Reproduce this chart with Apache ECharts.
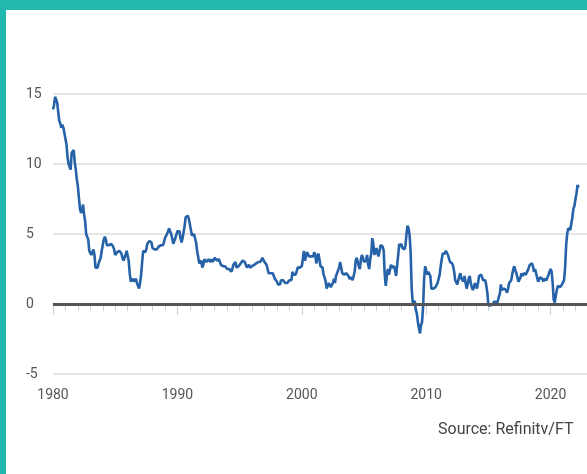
<!DOCTYPE html>
<html>
<head>
<meta charset="utf-8">
<script src="https://cdn.jsdelivr.net/npm/echarts@6/dist/echarts.min.js"></script>
<style>
  html, body { margin: 0; padding: 0; background: #fff; overflow: hidden; }
  /* plot runs past the right edge, like the cropped original */
  #chart { position: absolute; left: 0; top: 0; width: 678px; height: 474px; }
  .edge { position: absolute; background: #22b8b0; }
</style>
</head>
<body>
<div id="chart"></div>
<div class="edge" style="left:0;top:0;width:587px;height:10px"></div>
<div class="edge" style="left:0;top:0;width:6px;height:474px"></div>
<script>
// US consumer prices, % change on a year earlier, monthly from Jan 1980
var startYear = 1980;
var cpi1980s = [
  13.9, 14.2, 14.8, 14.7, 14.4, 14.4, 13.1, 12.9, 12.6, 12.8, 12.6, 12.5,
  11.8, 11.4, 10.5, 10.0, 9.8, 9.6, 10.8, 10.8, 11.0, 10.1, 9.6, 8.9,
  8.4, 7.6, 6.8, 6.5, 6.7, 7.1, 6.4, 5.9, 5.0, 5.1, 4.6, 3.8,
  3.7, 3.5, 3.6, 3.9, 3.5, 2.6, 2.5, 2.6, 2.9, 2.9, 3.3, 3.8,
  4.2, 4.6, 4.8, 4.6, 4.2, 4.2, 4.2, 4.3, 4.3, 4.3, 4.1, 3.9,
  3.5, 3.5, 3.7, 3.7, 3.8, 3.8, 3.6, 3.3, 3.1, 3.2, 3.5, 3.8,
  3.9, 3.1, 2.2, 1.6, 1.5, 1.8, 1.6, 1.6, 1.8, 1.5, 1.3, 1.1,
  1.5, 2.1, 3.0, 3.8, 3.9, 3.7, 3.9, 4.3, 4.4, 4.5, 4.5, 4.4,
  4.0, 3.9, 3.9, 3.9, 3.9, 4.0, 4.1, 4.0, 4.2, 4.2, 4.2, 4.4,
  4.7, 4.8, 5.0, 5.1, 5.4, 5.2, 5.0, 4.7, 4.3, 4.5, 4.7, 4.6
];
var cpi1990s = [
  5.2, 5.3, 5.2, 4.7, 4.4, 4.7, 4.8, 5.6, 6.2, 6.3, 6.3, 6.1,
  5.7, 5.3, 4.9, 4.9, 5.0, 4.7, 4.4, 3.8, 3.4, 2.9, 3.0, 3.1,
  2.6, 2.8, 3.2, 3.2, 3.0, 3.1, 3.2, 3.1, 3.0, 3.2, 3.0, 2.9,
  3.3, 3.2, 3.1, 3.2, 3.2, 3.0, 2.8, 2.8, 2.7, 2.8, 2.7, 2.7,
  2.5, 2.5, 2.5, 2.4, 2.3, 2.5, 2.8, 2.9, 3.0, 2.6, 2.7, 2.7,
  2.8, 2.9, 2.9, 3.1, 3.2, 3.0, 2.8, 2.6, 2.5, 2.8, 2.6, 2.5,
  2.7, 2.7, 2.8, 2.9, 2.9, 2.8, 3.0, 2.9, 3.0, 3.0, 3.3, 3.3,
  3.0, 3.0, 2.8, 2.5, 2.2, 2.3, 2.2, 2.2, 2.2, 2.1, 1.8, 1.7,
  1.6, 1.4, 1.4, 1.4, 1.7, 1.7, 1.7, 1.6, 1.5, 1.5, 1.5, 1.6,
  1.7, 1.6, 1.7, 2.3, 2.1, 2.0, 2.1, 2.3, 2.6, 2.6, 2.6, 2.7
];
var cpi2000s = [
  2.7, 3.2, 3.8, 3.1, 3.2, 3.7, 3.7, 3.4, 3.5, 3.4, 3.4, 3.4,
  3.7, 3.5, 2.9, 3.3, 3.6, 3.2, 2.7, 2.7, 2.6, 2.1, 1.9, 1.6,
  1.1, 1.1, 1.5, 1.6, 1.2, 1.1, 1.5, 1.8, 1.5, 2.0, 2.2, 2.4,
  2.6, 3.0, 3.0, 2.2, 2.1, 2.1, 2.1, 2.2, 2.3, 2.0, 1.8, 1.9,
  1.9, 1.7, 1.7, 2.3, 3.1, 3.3, 3.0, 2.7, 2.5, 3.2, 3.5, 3.3,
  3.0, 3.0, 3.1, 3.5, 2.8, 2.5, 3.2, 3.6, 4.7, 4.3, 3.5, 3.4,
  4.0, 3.6, 3.4, 3.5, 4.2, 4.3, 4.1, 3.8, 2.1, 1.3, 2.0, 2.5,
  2.1, 2.4, 2.8, 2.6, 2.7, 2.7, 2.4, 2.0, 2.8, 3.5, 4.3, 4.1,
  4.3, 4.0, 4.0, 3.9, 4.2, 5.0, 5.6, 5.4, 4.9, 3.7, 1.1, 0.1,
  0.0, 0.2, -0.4, -0.7, -1.3, -1.4, -2.1, -1.5, -1.3, -0.2, 1.8, 2.7
];
var cpi2010s = [
  2.6, 2.1, 2.3, 2.2, 2.0, 1.1, 1.2, 1.1, 1.1, 1.2, 1.1, 1.5,
  1.6, 2.1, 2.7, 3.2, 3.6, 3.6, 3.6, 3.8, 3.9, 3.5, 3.4, 3.0,
  2.9, 2.9, 2.7, 2.3, 1.7, 1.7, 1.4, 1.7, 2.0, 2.2, 1.8, 1.7,
  1.6, 2.0, 1.5, 1.1, 1.4, 1.8, 2.0, 1.5, 1.2, 1.0, 1.2, 1.5,
  1.6, 1.1, 1.5, 2.0, 2.1, 2.1, 2.0, 1.7, 1.7, 1.7, 1.3, 0.8,
  -0.1, 0.0, -0.1, -0.2, 0.0, 0.1, 0.2, 0.2, 0.0, 0.2, 0.5, 0.7,
  1.4, 1.0, 0.9, 1.1, 1.0, 1.0, 0.8, 1.1, 1.5, 1.6, 1.7, 2.1,
  2.5, 2.7, 2.4, 2.2, 1.9, 1.6, 1.7, 1.9, 2.2, 2.0, 2.2, 2.1,
  2.1, 2.2, 2.4, 2.5, 2.8, 2.9, 2.9, 2.7, 2.3, 2.5, 2.2, 1.9,
  1.6, 1.5, 1.9, 2.0, 1.8, 1.6, 1.8, 1.7, 1.7, 1.8, 2.1, 2.3
];
var cpi2020s = [
  2.5, 2.3, 1.5, 0.3, 0.1, 0.6, 1.0, 1.3, 1.4, 1.2, 1.2, 1.4,
  1.4, 1.7, 2.6, 4.2, 5.0, 5.4, 5.4, 5.3, 5.4, 6.2, 6.8, 7.0,
  7.5, 7.9, 8.5, 8.3
];
var yTicks = [-5, 0, 5, 10, 15];
var xTickYears = [1980, 1990, 2000, 2010, 2020];

var cpi = cpi1980s.concat(cpi1990s, cpi2000s, cpi2010s, cpi2020s);
var lineData = cpi.map(function (v, i) {
  return [startYear + i / 12, v];
});

var myChart = echarts.init(document.getElementById('chart'));
var option = {
  animation: false,
  backgroundColor: '#fff',
  grid: {
    left: 53,
    right: 0,
    top: 94,
    bottom: 100
  },
  xAxis: {
    type: 'value',
    min: xTickYears[0],
    max: 2030,
    interval: 10,
    axisLine: { show: true, lineStyle: { color: '#dedede', width: 2 } },
    axisTick: { show: true, length: 11, lineStyle: { color: '#cfcfcf', width: 1 } },
    minorTick: { show: true, splitNumber: 10, length: 7, lineStyle: { color: '#cfcfcf', width: 1 } },
    splitLine: { show: false },
    axisLabel: {
      color: '#555',
      fontSize: 14,
      fontFamily: 'Roboto',
      margin: 14,
      formatter: function (v) {
        return xTickYears.indexOf(v) >= 0 ? String(v) : '';
      }
    }
  },
  yAxis: {
    type: 'value',
    min: yTicks[0],
    max: yTicks[yTicks.length - 1],
    interval: 5,
    axisLine: { show: false },
    axisTick: { show: false },
    splitLine: { show: true, lineStyle: { color: '#e6e6e6', width: 2 } },
    axisLabel: {
      color: '#555',
      fontSize: 14,
      fontFamily: 'Roboto',
      align: 'left',
      margin: 27
    }
  },
  series: [
    {
      type: 'line',
      data: lineData,
      showSymbol: false,
      lineStyle: { color: '#2562a8', width: 2.6 },
      itemStyle: { color: '#2562a8' },
      markLine: {
        silent: true,
        symbol: 'none',
        label: { show: false },
        lineStyle: { color: '#555', width: 3, type: 'solid' },
        data: [{ yAxis: 0 }]
      }
    }
  ],
  graphic: [
    {
      type: 'text',
      left: 438,
      top: 422,
      style: {
        text: 'Source: Refinitv/FT',
        fill: '#444',
        fontSize: 16,
        fontFamily: 'Roboto'
      }
    }
  ]
};
myChart.setOption(option);
</script>
</body>
</html>
